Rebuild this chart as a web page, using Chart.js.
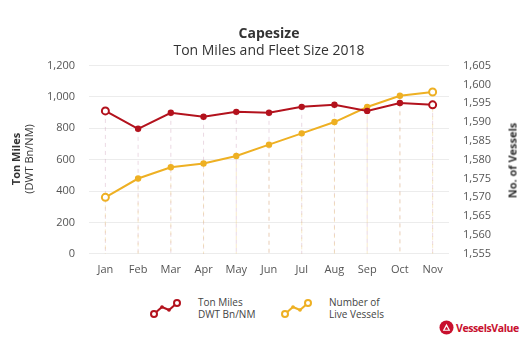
<!DOCTYPE html>
<html>
<head>
<meta charset="utf-8">
<script src="https://cdn.jsdelivr.net/npm/chart.js@4.4.0/dist/chart.umd.min.js"></script>
<style>
  html, body { margin: 0; padding: 0; background: #fff; }
  body { width: 530px; height: 346px; position: relative; overflow: hidden; font-family: 'Open Sans', 'Noto Sans', sans-serif; color: #333; }
  #wrap { position: absolute; left: 0; top: 0; width: 530px; height: 285px; }
  .ytitle { position: absolute; transform: rotate(-90deg); transform-origin: center; text-align: center; font-size: 11px; line-height: 13px; white-space: nowrap; color: #333; }
  .legend { position: absolute; top: 296px; display: flex; align-items: center; font-size: 10px; line-height: 12px; color: #444; }
  .legend canvas { margin-right: 16px; }
  .logo { position: absolute; left: 439px; top: 320px; display: flex; align-items: center; color: #c8102e; font-weight: 700; font-size: 10.5px; letter-spacing: -0.4px; }
</style>
</head>
<body>
<div id="wrap"><canvas id="chart" width="530" height="285"></canvas></div>

<div class="ytitle" style="left:-33px; top:146px; width:110px;"><b>Ton Miles</b><br>(DWT Bn/NM)</div>
<div class="ytitle" style="left:457px; top:154px; width:110px;"><b>No. of Vessels</b></div>

<div class="legend" style="left:150px;"><canvas id="lg1" width="32" height="20"></canvas><div>Ton Miles<br>DWT Bn/NM</div></div>
<div class="legend" style="left:281px;"><canvas id="lg2" width="32" height="20"></canvas><div>Number of<br>Live Vessels</div></div>

<div class="logo">
  <svg width="15" height="15" viewBox="0 0 16 16" style="margin-right:2px"><circle cx="8" cy="8" r="7.5" fill="#c8102e"/><path d="M4 11.5 L8 4 L12 11.5 Z" fill="#fff"/><path d="M6 10.5 L8 7 L10 10.5 Z" fill="#c8102e"/></svg>
  <span>VesselsValue</span>
</div>

<script>
const months = ['Jan', 'Feb', 'Mar', 'Apr', 'May', 'Jun', 'Jul', 'Aug', 'Sep', 'Oct', 'Nov'];
const tonMiles = [911, 797, 899, 874, 905, 899, 937, 950, 911, 962, 950];
const liveVessels = [1570, 1575, 1578, 1579, 1581, 1584, 1587, 1590, 1594, 1597, 1598];

const red = '#b3121d';
const yellow = '#eeb023';
const tickColor = '#555';
const fontFamily = "'Open Sans', 'Noto Sans', sans-serif";

// hollow markers on the first and last point, small filled dots between
const n = months.length;
const pointRadius = months.map((m, i) => (i === 0 || i === n - 1 ? 3.5 : 2.2));
const pointBg = color => months.map((m, i) => (i === 0 || i === n - 1 ? '#fff' : color));

// dashed drop lines from each point to the bottom of the plot
const dropLines = {
  id: 'dropLines',
  beforeDatasetsDraw(chart) {
    const { ctx, chartArea } = chart;
    const cols = ['rgba(205,160,185,0.4)', 'rgba(240,210,140,0.45)'];
    chart.data.datasets.forEach((ds, di) => {
      const meta = chart.getDatasetMeta(di);
      ctx.save();
      ctx.strokeStyle = cols[di];
      ctx.lineWidth = 1;
      ctx.setLineDash([4, 4]);
      meta.data.forEach(pt => {
        ctx.beginPath();
        ctx.moveTo(pt.x, pt.y);
        ctx.lineTo(pt.x, chartArea.bottom);
        ctx.stroke();
      });
      ctx.restore();
    });
  },
};

new Chart(document.getElementById('chart').getContext('2d'), {
  type: 'line',
  plugins: [dropLines],
  data: {
    labels: months,
    datasets: [
      {
        label: 'Ton Miles DWT Bn/NM',
        data: tonMiles,
        borderColor: red,
        backgroundColor: red,
        borderWidth: 2,
        pointRadius,
        pointBorderWidth: 2,
        pointBackgroundColor: pointBg(red),
        pointBorderColor: red,
        tension: 0,
        yAxisID: 'y',
      },
      {
        label: 'Number of Live Vessels',
        data: liveVessels,
        borderColor: yellow,
        backgroundColor: yellow,
        borderWidth: 2,
        pointRadius,
        pointBorderWidth: 2,
        pointBackgroundColor: pointBg(yellow),
        pointBorderColor: yellow,
        tension: 0,
        yAxisID: 'y2',
      },
    ],
  },
  options: {
    responsive: false,
    animation: false,
    layout: { padding: { left: 33, right: 25, top: 0, bottom: 0 } },
    scales: {
      x: {
        offset: true,
        grid: { display: false, drawTicks: false },
        border: { display: false },
        ticks: { color: tickColor, padding: 9, font: { family: fontFamily, size: 11 } },
      },
      y: {
        position: 'left',
        min: 0,
        max: 1200,
        grid: { color: '#ececec', drawTicks: false },
        border: { display: false },
        ticks: {
          stepSize: 200,
          padding: 14,
          color: tickColor,
          font: { family: fontFamily, size: 11 },
          callback: v => v.toLocaleString('en-US'),
        },
      },
      y2: {
        position: 'right',
        min: 1555,
        max: 1605,
        grid: { display: false, drawTicks: false },
        border: { display: false },
        ticks: {
          stepSize: 5,
          padding: 14,
          color: tickColor,
          font: { family: fontFamily, size: 11 },
          callback: v => v.toLocaleString('en-US'),
        },
      },
    },
    plugins: {
      legend: { display: false },
      tooltip: { enabled: false },
      title: {
        display: true,
        text: 'Capesize',
        color: '#333',
        font: { family: fontFamily, size: 14, weight: 'bold' },
        padding: { top: 26, bottom: 0 },
      },
      subtitle: {
        display: true,
        text: 'Ton Miles and Fleet Size 2018',
        color: '#333',
        font: { family: fontFamily, size: 14 },
        padding: { top: 0, bottom: 6 },
      },
    },
  },
});

// legend icons: small zig-zag line with hollow end markers
function drawIcon(id, color) {
  const c = document.getElementById(id).getContext('2d');
  const pts = [[4, 16], [12, 9], [19, 12], [27, 5]];
  c.strokeStyle = color;
  c.fillStyle = color;
  c.lineWidth = 2;
  c.beginPath();
  pts.forEach((p, i) => (i ? c.lineTo(p[0], p[1]) : c.moveTo(p[0], p[1])));
  c.stroke();
  pts.forEach((p, i) => {
    c.beginPath();
    if (i === 0 || i === pts.length - 1) {
      c.fillStyle = '#fff';
      c.arc(p[0], p[1], 3, 0, Math.PI * 2);
      c.fill();
      c.stroke();
    } else {
      c.fillStyle = color;
      c.arc(p[0], p[1], 1.8, 0, Math.PI * 2);
      c.fill();
    }
  });
}
drawIcon('lg1', red);
drawIcon('lg2', yellow);
</script>
</body>
</html>
